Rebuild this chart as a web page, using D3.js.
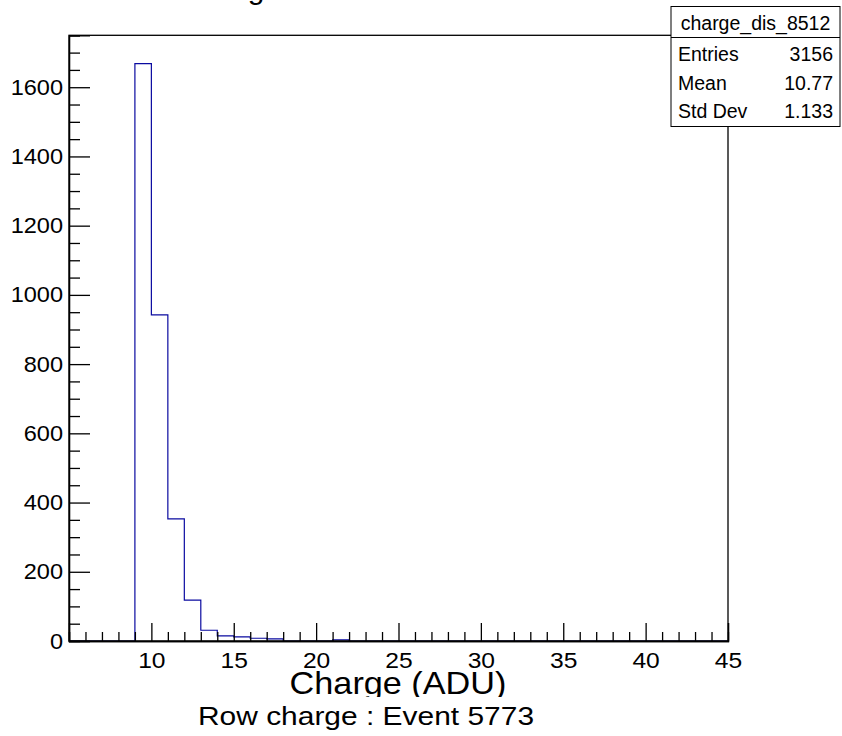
<!DOCTYPE html>
<html>
<head>
<meta charset="utf-8">
<script src="https://cdn.jsdelivr.net/npm/d3@7"></script>
<style>
  html, body { margin: 0; padding: 0; background: #fff; }
  svg { display: block; font-family: "Liberation Sans", Arial, Helvetica, sans-serif; }
</style>
</head>
<body>
<svg id="chart" width="842" height="736"></svg>
<script>
// ---- data ----
const binLow = d3.range(5, 45);           // bin lower edges, width 1
const counts = [0, 0, 0, 0, 1668, 942, 353, 118, 31, 15, 12, 8, 6, 0, 0, 0, 3, 0, 0, 0,
                0, 0, 0, 0, 0, 0, 0, 0, 0, 0, 0, 0, 0, 0, 0, 0, 0, 0, 0, 0];
const xMajorTicks = [10, 15, 20, 25, 30, 35, 40, 45];
const yMajorTicks = [0, 200, 400, 600, 800, 1000, 1200, 1400, 1600];
const statsTitle = "charge_dis_8512";
const statsNames = ["Entries", "Mean", "Std Dev"];
const statsValues = ["3156", "10.77", "1.133"];
const xTitle = "Charge (ADU)";
const caption = "Row charge : Event 5773";

// ---- layout ----
const svg = d3.select("#chart");
const L = 69, R = 728, T = 35.3, B = 641;
const x = d3.scaleLinear().domain([5, 45]).range([L, R]);
const y = d3.scaleLinear().domain([0, 1750]).range([B, T]);
const SX = 1.12;   // horizontal stretch of the x label font
const SY = 1.07;   // horizontal stretch of the y label font

// clipped top title descender
svg.append("text").attr("x", 256).attr("y", -1).attr("font-size", 30)
  .attr("text-anchor", "middle").text("g");

// histogram step outline
const pts = [];
binLow.forEach((lo, i) => {
  pts.push([x(lo), y(counts[i])]);
  pts.push([x(lo + 1), y(counts[i])]);
});
svg.append("path")
  .attr("d", d3.line()(pts))
  .attr("fill", "none")
  .attr("stroke", "#0a0aa0")
  .attr("stroke-width", 1.2);

// frame
svg.append("rect").attr("x", L).attr("y", T).attr("width", R - L).attr("height", B - T)
  .attr("fill", "none").attr("stroke", "#000").attr("stroke-width", 1.3);

// x axis
const xMinor = d3.range(5, 46).filter(v => !xMajorTicks.includes(v));
const gxMinor = svg.append("g").attr("transform", `translate(0,${B})`)
  .call(d3.axisBottom(x).tickValues(xMinor).tickSize(-9).tickFormat(""));
const gx = svg.append("g").attr("transform", `translate(0,${B})`)
  .call(d3.axisBottom(x).tickValues(xMajorTicks).tickSize(-18).tickPadding(11)
    .tickFormat(d3.format("d")));
[gx, gxMinor].forEach(g => {
  g.select(".domain").attr("stroke", "#000").attr("stroke-width", 1.3);
  g.selectAll(".tick line").attr("stroke", "#000").attr("stroke-width", 1.3);
});
gx.selectAll(".tick text").attr("font-size", 22).attr("fill", "#000")
  .attr("font-family", "Liberation Sans, Arial, sans-serif")
  .attr("transform", `scale(${SX},1)`);

// y axis
const yMinor = d3.range(0, 1751, 50).filter(v => !yMajorTicks.includes(v));
const gyMinor = svg.append("g").attr("transform", `translate(${L},0)`)
  .call(d3.axisLeft(y).tickValues(yMinor).tickSize(-11).tickFormat(""));
const gy = svg.append("g").attr("transform", `translate(${L},0)`)
  .call(d3.axisLeft(y).tickValues(yMajorTicks).tickSize(-21).tickPadding(6)
    .tickFormat(d3.format("d")));
[gy, gyMinor].forEach(g => {
  g.select(".domain").attr("stroke", "#000").attr("stroke-width", 1.3);
  g.selectAll(".tick line").attr("stroke", "#000").attr("stroke-width", 1.3);
});
gy.selectAll(".tick text").attr("font-size", 22).attr("fill", "#000")
  .attr("font-family", "Liberation Sans, Arial, sans-serif")
  .attr("x", -6 / SY)
  .attr("transform", `scale(${SY},1)`);

// axis title (bottom clipped) and caption
svg.append("clipPath").attr("id", "titleClip")
  .append("rect").attr("x", 0).attr("y", 0).attr("width", 842).attr("height", 697);
svg.append("g").attr("clip-path", "url(#titleClip)")
  .append("text").attr("text-anchor", "middle")
  .attr("transform", `translate(398,694) scale(1.07,1)`)
  .attr("font-size", 32).text(xTitle);
svg.append("text").attr("text-anchor", "middle")
  .attr("transform", `translate(366,725) scale(1.13,1)`)
  .attr("font-size", 26.5).text(caption);

// stats box
const bx = 671, bw = 169, by = 6.5, bh = 120, hdr = 31;
const sb = svg.append("g");
sb.append("rect").attr("x", bx).attr("y", by).attr("width", bw).attr("height", bh)
  .attr("fill", "#fff").attr("stroke", "#000").attr("stroke-width", 1);
sb.append("line").attr("x1", bx).attr("x2", bx + bw).attr("y1", by + hdr).attr("y2", by + hdr)
  .attr("stroke", "#000").attr("stroke-width", 1);
sb.append("text").attr("x", bx + bw / 2).attr("y", 30).attr("text-anchor", "middle")
  .attr("font-size", 19.5).text(statsTitle);
const rowBase = [61, 90, 118];
statsNames.forEach((n, i) => {
  sb.append("text").attr("x", bx + 7).attr("y", rowBase[i]).attr("font-size", 19.5).text(n);
  sb.append("text").attr("x", bx + bw - 7).attr("y", rowBase[i]).attr("text-anchor", "end")
    .attr("font-size", 19.5).text(statsValues[i]);
});
</script>
</body>
</html>
